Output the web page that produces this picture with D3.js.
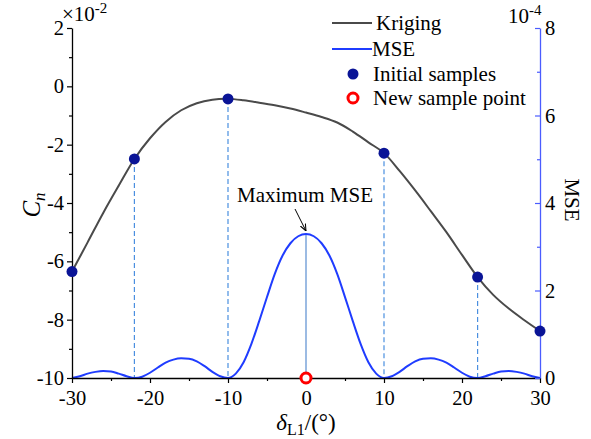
<!DOCTYPE html>
<html>
<head>
<meta charset="utf-8">
<script src="https://cdn.jsdelivr.net/npm/d3@7"></script>
<style>
  body { margin: 0; background: #fff; }
  svg { font-family: "Liberation Serif", "Times New Roman", serif; }
</style>
</head>
<body>
<svg id="chart" width="591" height="439"></svg>
<script>
// kriging prediction of Cn (x1e-2) vs deflection angle
const krigX = [-30, -28, -26, -24, -22, -20, -18, -16, -14, -12, -10, -8, -6, -4, -2, 0, 2, 4, 6, 8, 10, 12, 14, 16, 18, 20, 22, 24, 26, 28, 30];
const krigY = [-6.35, -5.35, -4.34, -3.40, -2.49, -1.78, -1.22, -0.82, -0.58, -0.46, -0.43, -0.48, -0.56, -0.65, -0.76, -0.90, -1.05, -1.24, -1.55, -1.92, -2.29, -2.90, -3.57, -4.28, -5.00, -5.78, -6.54, -7.15, -7.62, -8.02, -8.39];

// MSE (x1e-4)
const mseX = d3.range(-30, 31);
const mseY = [0, 0.04, 0.10, 0.14, 0.16, 0.15, 0.10, 0.04, 0, 0.03, 0.12, 0.24, 0.35, 0.42, 0.45, 0.44, 0.38, 0.27, 0.14, 0.04, 0,
  0.10, 0.36, 0.78, 1.30, 1.85, 2.38, 2.80, 3.08, 3.24, 3.29, 3.24, 3.08, 2.80, 2.38, 1.85, 1.30, 0.78, 0.36, 0.10,
  0, 0.04, 0.14, 0.27, 0.38, 0.44, 0.45, 0.42, 0.35, 0.24, 0.12, 0.03, 0, 0.04, 0.10, 0.15, 0.16, 0.14, 0.10, 0.04, 0];

const sampleX = [-30, -22, -10, 10, 22, 30];
const sampleY = [-6.35, -2.49, -0.43, -2.29, -6.54, -8.39];

const newX = [0];
const newMse = [3.29];

const xTicks = [-30, -20, -10, 0, 10, 20, 30];
const yTicks = [2, 0, -2, -4, -6, -8, -10];
const y2Ticks = [0, 2, 4, 6, 8];

const svg = d3.select('#chart');
const pLeft = 72, pRight = 540, pTop = 28, pBottom = 378;

const x = d3.scaleLinear().domain([-30, 30]).range([pLeft, pRight]);
const y = d3.scaleLinear().domain([-10, 2]).range([pBottom, pTop]);
const y2 = d3.scaleLinear().domain([0, 8]).range([pBottom, pTop]);

const black = '#000';
const blueAxis = '#4a5cff';

// dashed guides from samples
svg.append('g')
  .selectAll('line')
  .data(sampleX.slice(1, -1).map((d, i) => [d, sampleY[i + 1]]))
  .enter()
  .append('line')
  .attr('x1', d => x(d[0])).attr('x2', d => x(d[0]))
  .attr('y1', d => y(d[1])).attr('y2', pBottom)
  .attr('stroke', '#4a8fe0')
  .attr('stroke-width', 1.2)
  .attr('stroke-dasharray', '5,3');

// vertical line at max MSE
svg.append('line')
  .attr('x1', x(newX[0])).attr('x2', x(newX[0]))
  .attr('y1', y2(newMse[0])).attr('y2', pBottom)
  .attr('stroke', '#9cbbe3')
  .attr('stroke-width', 2);

// kriging curve
svg.append('path')
  .datum(krigX.map((d, i) => [d, krigY[i]]))
  .attr('fill', 'none')
  .attr('stroke', '#4a4a4a')
  .attr('stroke-width', 2)
  .attr('d', d3.line().x(d => x(d[0])).y(d => y(d[1])).curve(d3.curveCatmullRom));

// mse curve
svg.append('path')
  .datum(mseX.map((d, i) => [d, mseY[i]]))
  .attr('fill', 'none')
  .attr('stroke', '#1f3cff')
  .attr('stroke-width', 2)
  .attr('d', d3.line().x(d => x(d[0])).y(d => y2(d[1])).curve(d3.curveMonotoneX));

// axes
const fmt = d => String(d);
const gx = svg.append('g').attr('transform', `translate(0,${pBottom})`)
  .call(d3.axisBottom(x).tickValues(xTicks).tickFormat(fmt).tickSize(5).tickSizeOuter(0).tickPadding(7));
svg.append('g').attr('transform', `translate(0,${pBottom})`)
  .call(d3.axisBottom(x).tickValues([-25, -15, -5, 5, 15, 25]).tickFormat('').tickSize(3).tickSizeOuter(0))
  .select('.domain').remove();

const gy = svg.append('g').attr('transform', `translate(${pLeft},0)`)
  .call(d3.axisLeft(y).tickValues(yTicks).tickFormat(fmt).tickSize(5).tickSizeOuter(0).tickPadding(3));
svg.append('g').attr('transform', `translate(${pLeft},0)`)
  .call(d3.axisLeft(y).tickValues([1, -1, -3, -5, -7, -9]).tickFormat('').tickSize(3).tickSizeOuter(0))
  .select('.domain').remove();

const gy2 = svg.append('g').attr('transform', `translate(${pRight},0)`)
  .call(d3.axisRight(y2).tickValues(y2Ticks).tickFormat(fmt).tickSizeInner(-5).tickSizeOuter(0).tickPadding(5));
const gy2m = svg.append('g').attr('transform', `translate(${pRight},0)`)
  .call(d3.axisRight(y2).tickValues([1, 3, 5, 7]).tickFormat('').tickSizeInner(-3).tickSizeOuter(0));
gy2m.select('.domain').remove();

[gx, gy, gy2].forEach(g => g.selectAll('text').attr('font-size', 20.5).attr('font-family', '"Liberation Serif", serif').attr('fill', black));
svg.selectAll('.domain').attr('stroke-width', 1.3);
svg.selectAll('.tick line').attr('stroke-width', 1.2);
gy2.select('.domain').attr('stroke', blueAxis);
gy2.selectAll('.tick line').attr('stroke', blueAxis);
gy2m.selectAll('.tick line').attr('stroke', blueAxis);

// sample points
svg.append('g')
  .selectAll('circle')
  .data(sampleX.map((d, i) => [d, sampleY[i]]))
  .enter()
  .append('circle')
  .attr('cx', d => x(d[0]))
  .attr('cy', d => y(d[1]))
  .attr('r', 5.5)
  .attr('fill', '#0a1496');

// new sample point
svg.append('circle')
  .attr('cx', x(newX[0])).attr('cy', pBottom)
  .attr('r', 5)
  .attr('fill', '#fff')
  .attr('stroke', '#ff0000')
  .attr('stroke-width', 3);

// annotation
svg.append('text')
  .attr('x', 305).attr('y', 202)
  .attr('text-anchor', 'middle')
  .attr('font-size', 21)
  .text('Maximum MSE');
svg.append('defs').append('marker')
  .attr('id', 'arr').attr('viewBox', '0 0 10 10')
  .attr('refX', 10).attr('refY', 5)
  .attr('markerWidth', 7).attr('markerHeight', 7)
  .attr('orient', 'auto')
  .append('path').attr('d', 'M0,1L10,5L0,9').attr('fill', 'none').attr('stroke', '#000').attr('stroke-width', 1.5);
svg.append('line')
  .attr('x1', 295).attr('y1', 209)
  .attr('x2', 306).attr('y2', 231)
  .attr('stroke', '#000').attr('stroke-width', 1)
  .attr('marker-end', 'url(#arr)');

// scale multipliers
const m1 = svg.append('text').attr('x', 62).attr('y', 21).attr('font-size', 21);
m1.append('tspan').text('\u00d710');
m1.append('tspan').attr('dy', -8).attr('font-size', 15).text('-2');
const m2 = svg.append('text').attr('x', 508).attr('y', 23).attr('font-size', 21);
m2.append('tspan').text('10');
m2.append('tspan').attr('dy', -8).attr('font-size', 15).text('-4');

// axis titles
const cn = svg.append('text')
  .attr('transform', 'translate(40,205) rotate(-90)')
  .attr('text-anchor', 'middle')
  .attr('font-size', 25);
cn.append('tspan').attr('font-style', 'italic').text('C');
cn.append('tspan').attr('font-style', 'italic').attr('font-size', 17).attr('dy', 5).text('n');

svg.append('text')
  .attr('transform', 'translate(565,200) rotate(90)')
  .attr('text-anchor', 'middle')
  .attr('font-size', 21)
  .text('MSE');

const xl = svg.append('text')
  .attr('x', 306).attr('y', 430)
  .attr('text-anchor', 'middle')
  .attr('font-size', 23);
xl.append('tspan').attr('font-style', 'italic').text('\u03b4');
xl.append('tspan').attr('font-size', 16).attr('dy', 5).text('L1');
xl.append('tspan').attr('dy', -5).text('/(\u00b0)');

// legend
const lg = svg.append('g').attr('font-size', 21);
lg.append('line').attr('x1', 332).attr('x2', 372).attr('y1', 23).attr('y2', 23).attr('stroke', '#4a4a4a').attr('stroke-width', 2);
lg.append('text').attr('x', 376).attr('y', 30).text('Kriging');
lg.append('line').attr('x1', 332).attr('x2', 372).attr('y1', 49).attr('y2', 49).attr('stroke', '#1f3cff').attr('stroke-width', 2);
lg.append('text').attr('x', 372).attr('y', 56).text('MSE');
lg.append('circle').attr('cx', 353).attr('cy', 74).attr('r', 5.5).attr('fill', '#0a1496');
lg.append('text').attr('x', 373).attr('y', 81).text('Initial samples');
lg.append('circle').attr('cx', 353).attr('cy', 98).attr('r', 5).attr('fill', '#fff').attr('stroke', '#ff0000').attr('stroke-width', 3);
lg.append('text').attr('x', 373).attr('y', 105).text('New sample point');
</script>
</body>
</html>
